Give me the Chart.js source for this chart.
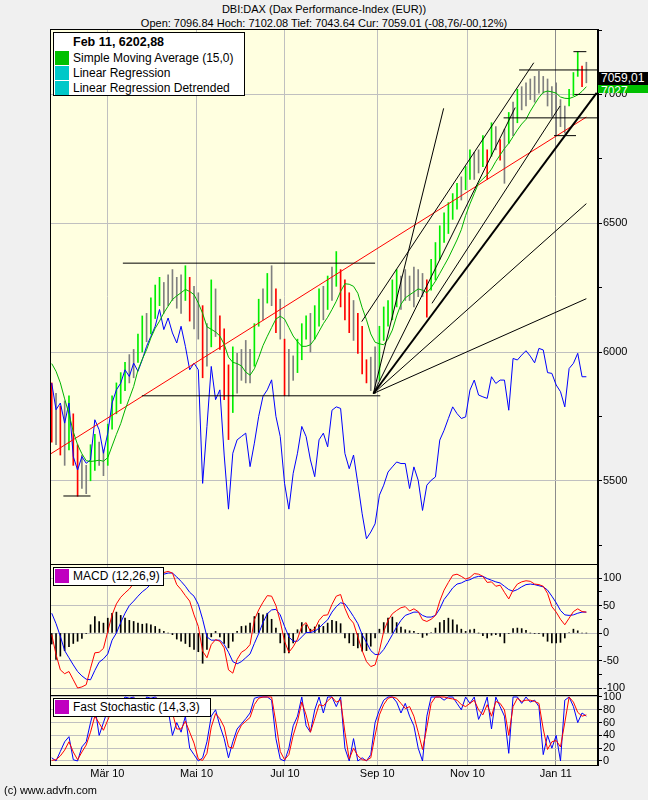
<!DOCTYPE html>
<html lang="de">
<head>
<meta charset="UTF-8">
<title>DBI:DAX (Dax Performance-Index (EUR))</title>
<script src="https://cdn.jsdelivr.net/npm/chart.js"></script>
<style>
    body {
        margin: 0;
        background: #f0f0f0;
        font-family: 'Liberation Sans', Arial, sans-serif;
        color: #000;
    }
    #wrap {
        position: relative;
        width: 648px;
        height: 800px;
        overflow: hidden;
    }
    canvas {
        position: absolute;
        left: 0;
        top: 0;
    }
    .title {
        position: absolute;
        left: 0;
        width: 648px;
        text-align: center;
        font-size: 11px;
        line-height: 13px;
    }
    .box {
        position: absolute;
        background: #fff;
        border: 1px solid #000;
        box-sizing: border-box;
        font-size: 12px;
        z-index: 5;
    }
    .box .txt {
        position: absolute;
        left: 19px;
        white-space: nowrap;
        line-height: 14px;
    }
    .box .sw {
        position: absolute;
        left: 1px;
        width: 14px;
        height: 14px;
    }
    .tag {
        position: absolute;
        left: 598px;
        width: 50px;
        color: #fff;
        font-size: 12px;
        padding-left: 3px;
        box-sizing: border-box;
        overflow: hidden;
        z-index: 6;
    }
    #footer {
        position: absolute;
        left: 4px;
        top: 784px;
        font-size: 11px;
    }
</style>
</head>
<body>
<div id="wrap">
    <div class="title" style="top:3px">DBI:DAX (Dax Performance-Index (EUR))</div>
    <div class="title" style="top:17px">Open: 7096.84 Hoch: 7102.08 Tief: 7043.64 Cur: 7059.01 (-08,76/-00,12%)</div>

    <canvas id="priceChart" width="648" height="800"></canvas>
    <canvas id="macdChart" width="648" height="800"></canvas>
    <canvas id="stochChart" width="648" height="800"></canvas>

    <div class="box" style="left:53px;top:32px;width:192px;height:64px;">
        <div class="txt" style="top:2px;font-weight:bold;font-size:12.5px;">Feb 11, 6202,88</div>
        <div class="sw" style="top:18px;background:#00c000"></div>
        <div class="txt" style="top:18px">Simple Moving Average (15,0)</div>
        <div class="sw" style="top:33px;background:#00c8c8"></div>
        <div class="txt" style="top:33px">Linear Regression</div>
        <div class="sw" style="top:48px;background:#00c8c8"></div>
        <div class="txt" style="top:48px">Linear Regression Detrended</div>
    </div>
    <div class="box" style="left:53px;top:567px;width:111px;height:19px;">
        <div class="sw" style="top:1px;background:#c000c0"></div>
        <div class="txt" style="top:1px">MACD (12,26,9)</div>
    </div>
    <div class="box" style="left:53px;top:698px;width:158px;height:19px;">
        <div class="sw" style="top:1px;background:#c000c0"></div>
        <div class="txt" style="top:1px">Fast Stochastic (14,3,3)</div>
    </div>

    <div class="tag" style="top:72px;height:13px;line-height:13px;background:#000">7059,01</div>
    <div class="tag" style="top:85px;height:8px;line-height:13px;background:#00c000">7027</div>

    <div id="footer">(c) www.advfn.com</div>
</div>

<script>
    // x axis: one bar per index, month labels at their index positions
    const monthLabels = ['Mär 10', 'Mai 10', 'Jul 10', 'Sep 10', 'Nov 10', 'Jan 11'];
    const monthTicks = [12.9, 33.6, 54.1, 75.5, 96.4, 116.9];

    const priceTicks = [5250, 5500, 5750, 6000, 6250, 6500, 6750, 7000, 7250];
    const macdTicks = [-100, -75, -50, -25, 0, 25, 50, 75, 100];
    const stochTicks = [0, 20, 40, 60, 80, 100];

    // price bars (high / low)
    const highs = [5880,5840,5790,5810,5830,5760,5640,5600,5560,5640,5680,5650,5620,5720,5830,5880,5920,5960,5990,6010,6070,6140,6150,6210,6260,6290,6270,6300,6320,6290,6300,6335,
        6290,6255,6230,6180,6110,6280,6245,6140,6090,5950,6020,5995,6010,6045,6010,6110,6205,6245,6305,6335,6245,6205,6050,6010,5985,6050,6110,6140,6150,6180,6245,6255,
        6295,6330,6390,6320,6280,6230,6200,6150,6100,5970,5980,6020,6100,6175,6200,6280,6320,6295,6320,6295,6330,6320,6305,6280,6360,6425,6490,6540,6580,6615,
        6655,6680,6720,6785,6775,6785,6840,6785,6890,6875,6825,6865,6930,6970,7020,7030,7045,7060,7070,7090,7070,7060,7030,7045,6980,6955,7020,7085,7165,7110,7125];
    const lows = [5650,5640,5600,5560,5620,5560,5440,5470,5450,5500,5540,5560,5520,5560,5700,5760,5800,5850,5880,5900,5960,6000,6040,6070,6130,6180,6150,6180,6200,6170,6150,6200,
        6120,6090,6050,5900,5945,6020,6060,6010,5815,5660,5765,5840,5890,5880,5880,5945,6100,6125,6190,6180,6075,6050,5830,5830,5890,5920,5970,6050,6000,6050,6100,6125,
        6165,6200,6255,6175,6125,6075,6045,5995,5915,5880,5850,5838,5890,6045,6100,6125,6175,6165,6200,6200,6175,6215,6215,6135,6240,6280,6360,6425,6460,6515,
        6555,6590,6630,6670,6670,6695,6720,6670,6760,6785,6745,6655,6810,6840,6890,6940,6955,6980,6970,7005,7005,6955,6915,6840,6875,6850,6955,6995,7070,7030,7045];

    const sma15 = [5955,5925,5880,5818,5760,5690,5640,5605,5578,5575,5577,5580,5576,5590,5635,5680,5722,5775,5820,5866,5930,5972,6009,6055,6092,6120,6152,6178,6204,6218,6230,6243,
        6235,6223,6190,6150,6098,6088,6078,6062,6030,5980,5960,5955,5946,5922,5910,5935,5978,6025,6061,6095,6128,6139,6128,6095,6062,6040,6022,6022,6028,6050,6080,6110,
        6135,6165,6197,6235,6265,6263,6255,6228,6172,6125,6070,6038,6032,6028,6050,6085,6140,6185,6210,6222,6233,6245,6240,6230,6250,6275,6305,6335,6365,6400,
        6435,6475,6530,6575,6615,6656,6672,6688,6710,6740,6765,6790,6810,6836,6862,6885,6903,6935,6962,6988,7008,7013,7010,7005,6990,6985,6984,6990,6998,7012,7030];

    // regression line: value at the left edge and at the last bar
    const regressionX = [-0.4, 124];
    const regressionY = [5603, 6912];

    // detrended series, read in price axis units
    const detrended = [5879,5776,5802,5724,5802,5594,5542,5594,5568,5581,5737,5698,5607,5685,5802,5853,5879,5931,5905,5957,5925,5970,6022,6061,6100,6165,6087,6132,6074,6035,6100,6022,
        5931,5957,5931,5490,5711,5944,5815,5853,5600,5390,5607,5659,5672,5685,5555,5646,5750,5828,5853,5892,5750,5672,5490,5390,5529,5607,5711,5672,5581,5516,5659,5685,
        5632,5774,5787,5781,5606,5547,5600,5489,5372,5275,5301,5333,5444,5483,5534,5554,5573,5567,5567,5470,5554,5502,5385,5483,5502,5515,5658,5696,5742,5787,
        5761,5742,5748,5852,5891,5833,5826,5820,5904,5878,5891,5891,5774,5975,5969,5988,6005,5984,5958,6014,6008,5920,5917,5872,5846,5787,5936,5956,5995,5904,5904];

    // drawn lines: [x1, y1, x2, y2] in bar index / price
    const trendLines = [
        [2.7, 5441, 9.0, 5441],
        [16.5, 6345, 75.0, 6345],
        [20.9, 5830, 76.2, 5830],
        [108.4, 7095, 126.7, 7095],
        [104.8, 6909, 126.7, 6909],
        [116.5, 6840, 121.6, 6840],
        [121.2, 7000, 126.7, 7000],
        [121.0, 7166, 124.0, 7166],
        [71.9, 6118, 111.8, 7123],
        [88.2, 6189, 117.9, 6955],
        [74.6, 5839, 90.9, 6946],
        [74.6, 5839, 107.5, 6949],
        [74.6, 5839, 124.0, 6576],
        [74.6, 5839, 124.0, 6207]
    ];
    const boldLines = [
        [74.6, 5839, 126.4, 7006]
    ];

    // MACD panel
    const macdLine = [-3,-39,-67,-74,-70,-85,-100,-98,-94,-64,-36,-35,-28,3,33,53,65,73,80,90,91,94,97,104,107,109,110,112,109,88,79,68,
        58,33,12,-33,-45,-21,-12,-15,-27,-67,-73,-48,-35,-30,-21,24,42,56,68,67,50,21,-15,-35,-25,-11,12,19,3,7,23,32,
        33,52,67,70,45,27,18,-7,-32,-52,-61,-58,-32,3,23,35,41,46,48,40,44,39,24,21,25,32,58,78,92,105,
        107,103,98,101,108,107,103,92,93,85,87,74,62,78,89,93,95,94,89,88,85,72,48,38,25,15,27,39,44,39,38];
    const signalLine = [36,17,-6,-32,-45,-58,-70,-78,-84,-85,-68,-53,-47,-38,-13,0,19,36,50,58,67,75,81,89,97,102,107,109,109,102,94,85,
        74,67,52,25,-7,-13,-13,-13,-21,-35,-52,-56,-52,-45,-38,-19,-1,19,35,42,43,33,12,-7,-15,-15,-7,1,1,3,9,17,
        24,38,48,55,53,42,30,17,-3,-17,-32,-39,-39,-30,-17,-3,11,23,32,35,38,38,32,29,29,32,44,61,71,82,
        89,91,95,97,101,103,103,99,96,93,91,85,79,76,79,84,88,89,88,86,84,78,67,55,41,33,32,33,36,38,38];
    const histogram = [-20,-48,-42,-32,-25,-19,-15,-10,-1,15,30,21,18,27,36,38,32,27,23,21,18,16,17,15,12,7,3,0,-3,-11,-15,-19,
        -25,-30,-34,-55,-30,-7,3,-7,-19,-27,-15,3,12,13,18,30,36,33,36,25,9,-18,-36,-36,-18,6,19,15,7,11,15,12,
        18,23,21,17,-9,-18,-23,-27,-33,-32,-24,-9,7,19,27,29,19,11,6,4,3,-1,-8,-4,1,9,19,23,27,24,
        15,7,3,6,7,0,-5,-9,-4,-3,-6,-18,-1,8,9,8,5,0,-1,-1,-6,-15,-18,-18,-17,-9,1,7,4,0,0];

    // Fast stochastic panel
    const stochK = [5,0,15,30,38,2,0,22,30,60,85,40,60,80,92,95,90,100,98,100,90,85,100,98,100,95,90,80,40,60,45,70,
        20,10,0,5,30,70,80,55,35,5,30,50,58,66,75,98,100,100,100,95,35,3,0,20,55,70,100,55,45,80,100,75,
        100,100,85,100,20,0,35,0,5,0,10,60,80,95,100,100,92,75,90,70,55,20,0,70,100,100,100,95,100,100,
        90,80,100,90,100,65,80,100,50,100,85,70,12,100,100,90,100,92,95,85,10,40,20,40,0,95,100,85,60,75,70];
    const stochD = [1,2,8,17,30,14,2,14,25,45,70,59,48,64,80,88,92,95,97,98,95,90,92,96,98,97,94,88,75,50,50,62,
        45,28,3,1,12,53,74,66,53,22,20,42,56,62,68,88,98,100,100,100,60,15,2,10,40,62,92,72,45,66,88,86,
        94,100,92,95,45,3,20,8,2,1,5,40,72,88,98,100,98,90,82,85,70,45,18,52,90,100,100,100,98,97,
        95,88,85,90,95,80,72,88,70,93,90,80,40,85,98,93,95,95,93,90,50,18,30,32,22,60,100,92,76,70,72];

    Chart.defaults.font.family = "'Liberation Sans', Arial, sans-serif";
    Chart.defaults.font.size = 11;
    Chart.defaults.color = '#000';

    const PLOT_BG = '#ffffe0';
    const GRID = '#c0c0c0';

    // fill the plot area and draw a black frame around it
    const framePlugin = {
        id: 'frame',
        beforeDraw(chart) {
            const { ctx, chartArea: a } = chart;
            ctx.save();
            ctx.fillStyle = PLOT_BG;
            ctx.fillRect(a.left, a.top, a.right - a.left, a.bottom - a.top);
            ctx.restore();
        },
        afterDraw(chart) {
            const { ctx, chartArea: a } = chart;
            ctx.save();
            ctx.strokeStyle = '#000';
            ctx.lineWidth = 1;
            ctx.strokeRect(a.left + 0.5, a.top + 0.5, a.right - a.left - 1, a.bottom - a.top);
            ctx.restore();
        }
    };

    const asPoints = arr => arr.map((v, i) => ({ x: i, y: v }));

    function xAxis(showLabels) {
        return {
            type: 'linear',
            min: -0.4,
            max: 126.7,
            offset: false,
            afterBuildTicks: s => { s.ticks = monthTicks.map(v => ({ value: v })); },
            afterFit: s => { s.height = showLabels ? 20 : 0; },
            grid: {
                offset: false,
                drawTicks: false,
                color: c => c.index === monthTicks.length - 1 ? '#8c8c8c' : GRID
            },
            border: { display: false },
            ticks: {
                display: showLabels,
                autoSkip: false,
                maxRotation: 0,
                padding: 2,
                callback: (v, i) => monthLabels[i]
            }
        };
    }

    function yAxis(min, max, tickList, labelEvery, gridEvery) {
        return {
            position: 'right',
            min: min,
            max: max,
            afterBuildTicks: s => { s.ticks = tickList.map(v => ({ value: v })); },
            afterFit: s => { s.width = 50; },
            grid: {
                color: c => (c.tick && c.tick.value % gridEvery === 0) ? GRID : 'rgba(0,0,0,0)',
                tickColor: '#000',
                tickLength: 4
            },
            border: { color: '#000' },
            ticks: {
                padding: 1,
                autoSkip: false,
                callback: v => v % labelEvery === 0 ? v : ''
            }
        };
    }

    const commonOptions = (padTop, padBottom) => ({
        responsive: false,
        animation: false,
        devicePixelRatio: 1,
        layout: { padding: { top: padTop, bottom: padBottom, left: 50, right: 0 } },
        plugins: { legend: { display: false }, tooltip: { enabled: false } },
        elements: { point: { radius: 0 }, line: { tension: 0 } }
    });

    function lineSet(data, color, order, width) {
        return {
            type: 'line',
            data: data,
            borderColor: color,
            borderWidth: width || 1,
            pointRadius: 0,
            fill: false,
            order: order
        };
    }

    // bar colour from the move of the bar mid against the previous bar
    const barColors = highs.map((h, i) => {
        if (i === 0) return '#ff0000';
        const mid = (h + lows[i]) / 2;
        const prev = (highs[i - 1] + lows[i - 1]) / 2;
        if (mid - prev > 35) return '#00ee00';
        if (mid - prev < -35) return '#ff0000';
        return '#808080';
    });

    const priceSets = [
        {
            type: 'bar',
            data: highs.map((h, i) => ({ x: i, y: [lows[i], h] })),
            backgroundColor: barColors,
            barThickness: 1,
            grouped: false,
            order: 10
        },
        lineSet(asPoints(detrended), '#0000ff', 5),
        lineSet(regressionX.map((x, i) => ({ x: x, y: regressionY[i] })), '#ff0000', 4),
        lineSet(asPoints(sma15), '#00b400', 3)
    ];
    trendLines.forEach(t => {
        priceSets.push(lineSet([{ x: t[0], y: t[1] }, { x: t[2], y: t[3] }], '#000', 1));
    });
    boldLines.forEach(t => {
        priceSets.push(lineSet([{ x: t[0], y: t[1] }, { x: t[2], y: t[3] }], '#000', 1, 2));
    });

    new Chart(document.getElementById('priceChart'), {
        type: 'line',
        data: { datasets: priceSets },
        options: Object.assign(commonOptions(29, 236), {
            scales: {
                x: xAxis(false),
                y: yAxis(5177, 7254, priceTicks, 500, 500)
            }
        }),
        plugins: [framePlugin]
    });

    new Chart(document.getElementById('macdChart'), {
        type: 'line',
        data: {
            datasets: [
                {
                    type: 'bar',
                    data: asPoints(histogram),
                    backgroundColor: '#000',
                    barThickness: 1,
                    grouped: false,
                    order: 10
                },
                lineSet(asPoints(signalLine), '#0000ff', 3),
                lineSet(asPoints(macdLine), '#ff0000', 2)
            ]
        },
        options: Object.assign(commonOptions(564, 105), {
            scales: {
                x: xAxis(false),
                y: yAxis(-112.7, 125.5, macdTicks, 50, 50)
            }
        }),
        plugins: [framePlugin]
    });

    new Chart(document.getElementById('stochChart'), {
        type: 'line',
        data: {
            datasets: [
                lineSet(asPoints(stochK), '#0000ff', 3),
                lineSet(asPoints(stochD), '#ff0000', 2)
            ]
        },
        options: Object.assign(commonOptions(695, 15), {
            scales: {
                x: xAxis(true),
                y: yAxis(-6.25, 103.1, stochTicks, 20, 20)
            }
        }),
        plugins: [framePlugin]
    });
</script>
</body>
</html>
